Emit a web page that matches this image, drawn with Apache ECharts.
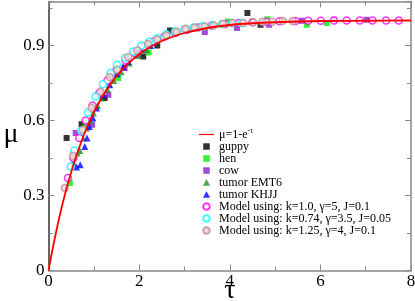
<!DOCTYPE html>
<html>
<head>
<meta charset="utf-8">
<script src="https://cdn.jsdelivr.net/npm/echarts@6/dist/echarts.min.js"></script>
<style>html,body{margin:0;padding:0;background:#fff}#c{width:415px;height:301px}</style>
</head>
<body>
<div id="c"></div>
<script>
// ---- data ----
var xTicks = [0, 2, 4, 6, 8];
var yTicks = [0, 0.3, 0.6, 0.9];
var xTitle = '\u03c4';
var yTitle = '\u03bc';

var curveTau = [0, 0.1, 0.2, 0.3, 0.4, 0.5, 0.6, 0.7, 0.8, 0.9, 1.0, 1.15, 1.3, 1.5, 1.75, 2.0, 2.25, 2.5, 2.75, 3.0, 3.5, 4.0, 4.5, 5.0, 6.0, 7.0, 8.0];
var curveMu  = [0, 0.095, 0.181, 0.259, 0.33, 0.393, 0.451, 0.503, 0.551, 0.593, 0.632, 0.683, 0.727, 0.777, 0.826, 0.865, 0.895, 0.918, 0.936, 0.950, 0.970, 0.982, 0.989, 0.993, 0.998, 0.999, 1.0];

var guppyTau = [0.40, 0.73, 1.24, 2.09, 2.40, 2.68, 4.39, 4.68];
var guppyMu  = [0.53, 0.585, 0.69, 0.856, 0.90, 0.96, 1.03, 0.983];

var henTau = [0.47, 0.82, 1.54, 2.21, 3.96, 4.83, 5.70, 6.14];
var henMu  = [0.35, 0.59, 0.77, 0.872, 0.996, 1.005, 0.983, 0.99];

var cowTau = [0.60, 0.96, 1.32, 1.68, 3.45, 4.16, 4.87, 5.59, 6.30, 7.02];
var cowMu  = [0.55, 0.583, 0.703, 0.81, 0.954, 0.97, 0.983, 0.999, 1.003, 1.003];

var emt6Tau = [0.55, 0.63, 0.69, 0.76, 0.84, 0.91, 0.99, 1.08, 1.18, 1.30, 1.44, 1.60, 1.78, 1.98, 2.16];
var emt6Mu  = [0.43, 0.47, 0.48, 0.53, 0.57, 0.60, 0.63, 0.66, 0.69, 0.725, 0.76, 0.795, 0.83, 0.86, 0.883];

var khjjTau = [0.62, 0.70, 0.80, 0.85, 0.90, 0.98, 1.06, 1.20, 1.35, 1.51, 1.65, 1.76, 1.94, 2.05, 2.25];
var khjjMu  = [0.414, 0.423, 0.496, 0.53, 0.576, 0.61, 0.65, 0.70, 0.743, 0.787, 0.815, 0.836, 0.87, 0.885, 0.90];

var modelATau = [0.43, 0.55, 0.68, 0.82, 0.97, 1.12, 1.30, 1.50, 1.70, 1.90, 2.10, 2.30, 2.55, 2.80, 3.05, 3.30, 3.60, 3.90, 4.20, 4.50, 4.80, 5.10, 5.45, 5.73, 6.01, 6.30, 6.58, 6.87, 7.15, 7.45, 7.73];
var modelAMu  = [0.37, 0.45, 0.53, 0.60, 0.66, 0.71, 0.76, 0.803, 0.84, 0.87, 0.895, 0.915, 0.935, 0.95, 0.962, 0.972, 0.98, 0.986, 0.99, 0.993, 0.995, 0.997, 0.998, 0.999, 0.999, 1.0, 1.0, 1.0, 1.0, 1.0, 1.0];

var modelBTau = [0.49, 0.57, 0.72, 0.87, 1.04, 1.20, 1.37, 1.51, 1.69, 1.87, 2.05, 2.22, 2.40, 2.60, 2.79, 3.00, 3.20, 3.40, 3.62, 3.83, 4.05, 4.26];
var modelBMu  = [0.416, 0.48, 0.56, 0.632, 0.696, 0.745, 0.79, 0.823, 0.85, 0.876, 0.90, 0.915, 0.93, 0.945, 0.956, 0.965, 0.972, 0.977, 0.982, 0.986, 0.989, 0.99];

var modelCTau = [0.36, 0.54, 0.76, 0.95, 1.15, 1.35, 1.52, 1.76, 1.96, 2.20, 2.40, 2.60, 2.83, 3.03, 3.23, 3.45, 3.65, 3.85, 4.06, 4.30, 4.52, 4.72, 4.94, 5.17, 5.39];
var modelCMu  = [0.33, 0.459, 0.563, 0.65, 0.716, 0.774, 0.803, 0.854, 0.88, 0.906, 0.923, 0.939, 0.955, 0.967, 0.971, 0.976, 0.98, 0.986, 0.99, 0.99, 0.992, 0.995, 0.995, 0.998, 0.998];

var names = ['curve', 'guppy', 'hen', 'cow', 'tumor EMT6', 'tumor KHJJ',
  'Model using: k=1.0, \u03b3=5, J=0.1',
  'Model using: k=0.74, \u03b3=3.5, J=0.05',
  'Model using: k=1.25, \u03b3=4, J=0.1'];

function zip(a, b) { return a.map(function (v, i) { return [v, b[i]]; }); }

var serif = "'Liberation Serif','Times New Roman',serif";
var SQ = 'path://M0,0H10V10H0Z';
var TRI = 'path://M5,0L10,9H0Z';
var LINE = 'path://M0,0H20V1.6H0Z';

var chart = echarts.init(document.getElementById('c'), null, {renderer: 'canvas'});

var frame = '#888';
function xAx(pos) {
  return {
    type: 'value', position: pos, min: 0, max: 8, interval: 2,
    axisLine: {show: true, onZero: false, lineStyle: {color: frame, width: 1.5}},
    axisTick: {show: true, inside: true, length: 6, lineStyle: {color: frame, width: 1}},
    minorTick: {show: true, splitNumber: 2, length: 4, lineStyle: {color: frame, width: 1}},
    axisLabel: {show: false},
    splitLine: {show: false}
  };
}
function yAx(pos, interval, len, show, line, lineColor) {
  return {
    type: 'value', position: pos, min: 0, max: 1.076, interval: interval,
    axisLine: {show: line, onZero: false, lineStyle: {color: lineColor, width: 1.5}},
    axisTick: {show: true, inside: true, length: len, lineStyle: {color: frame, width: 1}},
    axisLabel: {show: show, margin: 4, showMaxLabel: false, fontFamily: serif, fontSize: 17, color: '#000',
      formatter: function (v) { return yTicks.indexOf(v) >= 0 ? String(v) : ''; }},
    splitLine: {show: false}
  };
}

var option = {
  animation: false,
  backgroundColor: '#fff',
  grid: {left: 48.5, right: 4, top: 1.5, bottom: 30.5},
  graphic: [
    {id: 'ytitle', type: 'text', x: 11, y: 135, style: {text: yTitle, font: '28px ' + serif, fill: '#000', textAlign: 'center', textVerticalAlign: 'middle'}},
    {id: 'xtitle', type: 'text', x: 230, y: 290.5, style: {text: xTitle, font: '28px ' + serif, fill: '#000', textAlign: 'center', textVerticalAlign: 'middle'}}
  ],
  xAxis: [xAx('bottom'), xAx('top')],
  yAxis: [
    yAx('left', 0.3, 6, true, true, '#333'),
    yAx('left', 0.15, 4, false, false, '#333'),
    yAx('right', 0.3, 6, false, true, frame),
    yAx('right', 0.15, 4, false, false, frame)
  ],
  legend: {
    orient: 'vertical', left: 194, top: 122.5,
    itemWidth: 15, itemHeight: 6.5, itemGap: 0,
    textStyle: {fontFamily: serif, fontSize: 12, color: '#000', lineHeight: 11.8,
      rich: {a: {fontFamily: serif, fontSize: 12, color: '#000'},
             s: {fontFamily: serif, fontSize: 7.5, color: '#000', padding: [0, 0, 6, 0]}}},
    formatter: function (n) { return n === 'curve' ? '{a|\u03bc=1-e}{s|-\u03c4}' : n; },
    data: [
      {name: names[0], icon: LINE},
      {name: names[1], icon: SQ},
      {name: names[2], icon: SQ},
      {name: names[3], icon: SQ},
      {name: names[4], icon: TRI},
      {name: names[5], icon: TRI},
      {name: names[6], icon: 'circle'},
      {name: names[7], icon: 'circle'},
      {name: names[8], icon: 'circle'}
    ]
  },
  series: [
    {name: names[0], type: 'line', data: zip(curveTau, curveMu), symbol: 'none', smooth: 0.3,
     lineStyle: {color: '#ff0000', width: 1.8}, itemStyle: {color: '#ff0000'}},
    {name: names[1], type: 'scatter', data: zip(guppyTau, guppyMu), symbol: 'rect', symbolSize: 6, itemStyle: {color: '#000'}},
    {name: names[2], type: 'scatter', data: zip(henTau, henMu), symbol: 'rect', symbolSize: 6, itemStyle: {color: '#00ee00'}},
    {name: names[3], type: 'scatter', data: zip(cowTau, cowMu), symbol: 'rect', symbolSize: 6, itemStyle: {color: '#8a1fcf'}},
    {name: names[4], type: 'scatter', data: zip(emt6Tau, emt6Mu), symbol: 'triangle', symbolSize: 7, itemStyle: {color: '#1e8c1e'}},
    {name: names[5], type: 'scatter', data: zip(khjjTau, khjjMu), symbol: 'triangle', symbolSize: 7, itemStyle: {color: '#0000ff'}},
    {name: names[6], type: 'scatter', data: zip(modelATau, modelAMu), symbol: 'circle', symbolSize: 7,
     itemStyle: {color: '#fff', borderColor: '#ff00ff', borderWidth: 1.5}},
    {name: names[7], type: 'scatter', data: zip(modelBTau, modelBMu), symbol: 'circle', symbolSize: 7,
     itemStyle: {color: '#fff', borderColor: '#00ffff', borderWidth: 1.5}},
    {name: names[8], type: 'scatter', data: zip(modelCTau, modelCMu), symbol: 'circle', symbolSize: 7,
     itemStyle: {color: '#e6d6d6', borderColor: '#bc8f8f', borderWidth: 1.3}}
  ]
};
chart.setOption(option);

// x tick labels placed through the library's own x scale
var tickTexts = xTicks.map(function (v) {
  var p = chart.convertToPixel({xAxisIndex: 0, yAxisIndex: 0}, [v, 0]);
  return {id: 'xt' + v, type: 'text', x: p[0], y: p[1] + 3,
    style: {text: String(v), font: '17px ' + serif, fill: '#000', textAlign: 'center', textVerticalAlign: 'top'}};
});
chart.setOption({graphic: tickTexts});
</script>
</body>
</html>
